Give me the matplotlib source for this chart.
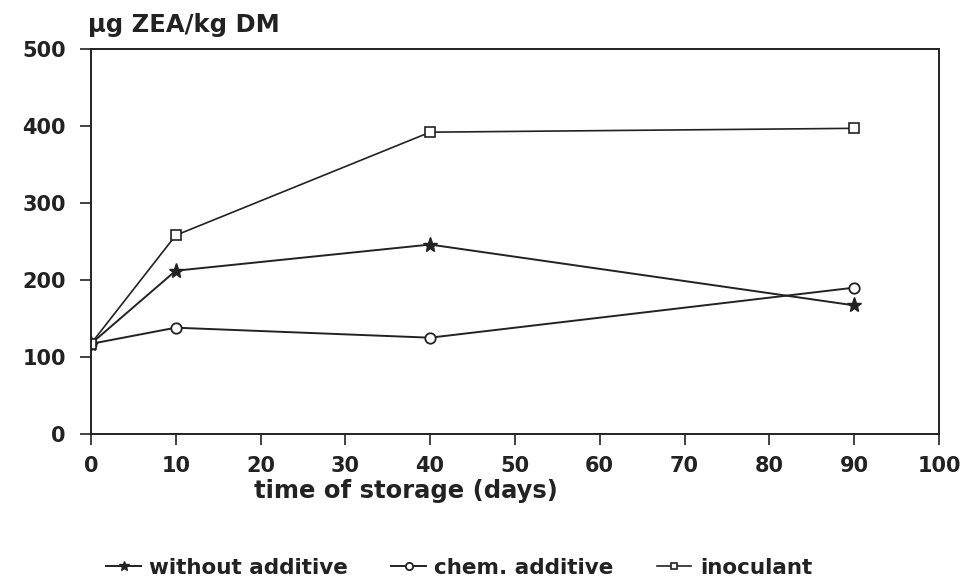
import matplotlib.pyplot as plt

plt.rcParams['font.family'] = ['DejaVu Sans']
plt.rcParams['font.weight'] = 'bold'

days = [0, 10, 40, 90]
without_additive = [117, 212, 246, 167]
chem_additive = [117, 138, 125, 190]
inoculant = [117, 258, 392, 397]

fig = plt.figure(figsize=(9.67, 5.77), dpi=100)
ax = fig.add_axes([0.094, 0.248, 0.877, 0.667])

col = '#222222'
ax.plot(days, without_additive, color=col, lw=1.4, marker='*', ms=11,
        mfc=col, mec=col, label='without additive')
ax.plot(days, chem_additive, color=col, lw=1.4, marker='o', ms=7.5,
        mfc='white', mec=col, mew=1.3, label='chem. additive')
ax.plot(days, inoculant, color=col, lw=1.2, marker='s', ms=6.5,
        mfc='white', mec=col, mew=1.2, label='inoculant')

ax.set_xlim(0, 100)
ax.set_ylim(0, 500)
ax.set_xticks(range(0, 101, 10))
ax.set_yticks(range(0, 501, 100))
ax.tick_params(direction='out', length=8, width=1.2, colors=col, labelsize=15, pad=10)
ax.tick_params(axis='x', pad=8)
for s in ax.spines.values():
    s.set_linewidth(1.4)
    s.set_color(col)

ax.set_xlabel('time of storage (days)', fontsize=17.5, fontweight='bold', color=col)
ax.xaxis.set_label_coords(0.372, -0.116)
ax.text(-0.003, 1.03, 'µg ZEA/kg DM', transform=ax.transAxes, fontsize=17.5,
        fontweight='bold', color=col, ha='left', va='bottom')

fig.legend(loc='lower center', bbox_to_anchor=(0.475, -0.035), ncol=3, frameon=False,
           fontsize=15.5, handlelength=1.6, handletextpad=0.4, columnspacing=2.0,
           labelcolor=col, markerscale=0.7)

fig.savefig('out.png', dpi=100)
